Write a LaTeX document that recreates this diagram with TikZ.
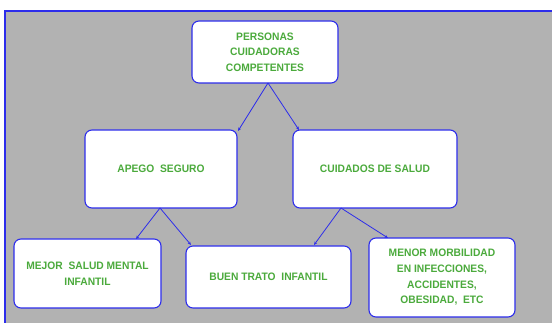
\documentclass[tikz,border=0pt]{standalone}
\usepackage{fontspec}
\setmainfont{Liberation Sans}
\newfontfamily\boxfont[FakeStretch=0.95]{Liberation Sans}
\usetikzlibrary{arrows.meta}
\definecolor{bluel}{RGB}{45,45,235}
\definecolor{txtg}{RGB}{75,170,60}
\definecolor{bg}{RGB}{178,178,178}
\tikzset{
  box/.style={draw=bluel, line width=1.1pt, fill=white, rounded corners=7pt, align=center,
    font=\boxfont\fontsize{10.8}{15.7}\selectfont\bfseries, text=txtg, inner sep=0pt},
  conn/.style={draw=bluel, line width=0.8pt, -{Stealth[length=3.5pt,width=3pt]}}
}
\begin{document}
\begin{tikzpicture}[x=1pt,y=-1pt]
\useasboundingbox (0,0) rectangle (552,323);
\clip (0,0) rectangle (552,323);
\fill[bg] (5,11) rectangle (560,330);
\draw[bluel, line width=1.1pt] (5,330) -- (5,11) -- (560,11);
\node[box, minimum width=146pt, minimum height=62pt] (top) at (265,52) {PERSONAS\\CUIDADORAS\\COMPETENTES};
\node[box, minimum width=152pt, minimum height=78pt] (apego) at (161,169) {APEGO\ \ SEGURO};
\node[box, minimum width=164pt, minimum height=78pt] (cuid) at (375,169) {CUIDADOS DE SALUD};
\node[box, minimum width=147pt, minimum height=69pt] (mejor) at (87.5,273.5) {MEJOR\ \ SALUD MENTAL\\INFANTIL};
\node[box, minimum width=165pt, minimum height=62pt] (buen) at (268.5,277) {BUEN TRATO\ \ INFANTIL};
\node[box, minimum width=146pt, minimum height=79pt] (menor) at (442,277.5) {MENOR MORBILIDAD\\EN INFECCIONES,\\ACCIDENTES,\\OBESIDAD,\ \ ETC};
\coordinate (t1) at (268,83);
\coordinate (a1) at (160,208);
\coordinate (c1) at (341,208);
\draw[conn] (t1) -- (238,131);
\draw[conn] (t1) -- (299,130);
\draw[conn] (a1) -- (136,239);
\draw[conn] (a1) -- (191,245);
\draw[conn] (c1) -- (314,245);
\draw[conn] (c1) -- (388,238);
\end{tikzpicture}
\end{document}
